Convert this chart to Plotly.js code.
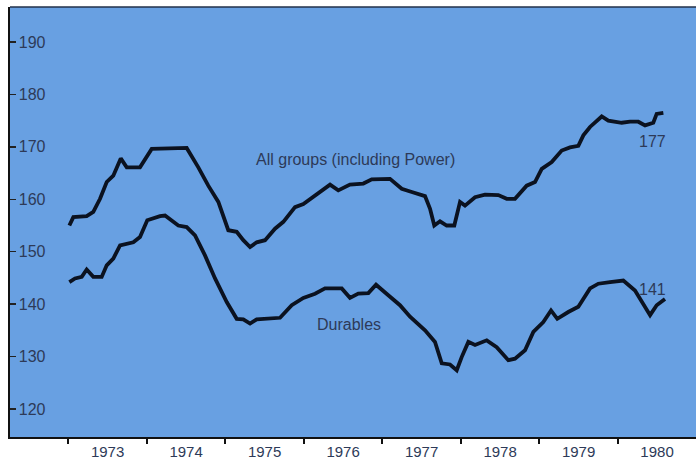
<!DOCTYPE html>
<html>
<head>
<meta charset="utf-8">
<script src="https://cdn.plot.ly/plotly-3.0.1.min.js"></script>
<style>html,body{margin:0;padding:0;background:#fff;}#chart{width:696px;height:459px;}</style>
</head>
<body>
<div id="chart"></div>
<script>
// Index values (x in fractional years)
const allGroupsX = [1973.013,1973.064,1973.234,1973.318,1973.404,1973.489,1973.573,1973.668,1973.744,1973.913,1974.062,1974.508,1974.656,1974.783,1974.911,1975.038,1975.145,1975.229,1975.315,1975.400,1975.506,1975.633,1975.739,1975.888,1975.994,1976.164,1976.334,1976.439,1976.588,1976.758,1976.865,1977.098,1977.247,1977.375,1977.544,1977.608,1977.662,1977.735,1977.820,1977.917,1977.990,1978.053,1978.181,1978.308,1978.478,1978.585,1978.690,1978.839,1978.945,1979.031,1979.158,1979.285,1979.391,1979.497,1979.561,1979.646,1979.795,1979.879,1980.050,1980.156,1980.261,1980.347,1980.452,1980.495,1980.580];
const allGroupsY = [155.0,156.6,156.8,157.6,160.1,163.3,164.5,167.8,166.1,166.1,169.6,169.8,166.1,162.6,159.5,154.1,153.8,152.2,150.9,151.8,152.2,154.4,155.7,158.5,159.1,161.0,162.8,161.7,162.8,163.0,163.8,163.9,162.0,161.4,160.6,158.2,155.0,155.8,155.0,155.0,159.5,158.8,160.4,160.9,160.8,160.1,160.1,162.6,163.3,165.8,167.1,169.3,169.9,170.2,172.2,173.8,175.8,175.0,174.6,174.8,174.8,174.1,174.6,176.3,176.5];

const durablesX = [1973.013,1973.085,1973.171,1973.234,1973.318,1973.425,1973.489,1973.573,1973.659,1973.828,1973.913,1974.006,1974.168,1974.232,1974.401,1974.508,1974.614,1974.741,1974.869,1975.018,1975.145,1975.229,1975.315,1975.400,1975.697,1975.846,1975.994,1976.143,1976.270,1976.483,1976.588,1976.694,1976.822,1976.920,1977.076,1977.225,1977.353,1977.544,1977.671,1977.757,1977.862,1977.948,1978.011,1978.096,1978.181,1978.330,1978.457,1978.605,1978.690,1978.818,1978.924,1979.051,1979.149,1979.229,1979.369,1979.497,1979.646,1979.752,1979.901,1980.070,1980.219,1980.411,1980.495,1980.601];
const durablesY = [144.2,144.9,145.2,146.6,145.2,145.2,147.4,148.7,151.2,151.8,152.8,156.0,156.8,156.9,155.0,154.7,153.1,149.3,144.9,140.4,137.2,137.1,136.3,137.1,137.4,139.8,141.2,142.0,143.0,143.0,141.2,142.0,142.1,143.7,141.7,139.8,137.6,135.0,132.8,128.7,128.5,127.4,129.9,132.8,132.2,133.1,131.8,129.3,129.6,131.2,134.7,136.6,138.8,137.2,138.5,139.5,143.0,143.9,144.2,144.5,142.6,137.9,139.8,141.0];

const yearLabels = ['1973','1974','1975','1976','1977','1978','1979','1980'];
const yearMids = [1973.5,1974.5,1975.5,1976.5,1977.5,1978.5,1979.5,1980.5];
const yTicks = [120,130,140,150,160,170,180,190];
const seriesNames = ['All groups (including Power)','Durables'];
const endLabels = ['177','141'];

const lineColor = '#0b1220';
const textColor = '#2d3a58';
const font = 'Liberation Sans, Arial, sans-serif';

const traces = [
  {x: allGroupsX, y: allGroupsY, mode: 'lines', line: {color: lineColor, width: 3.8}, hoverinfo: 'skip', showlegend: false},
  {x: durablesX, y: durablesY, mode: 'lines', line: {color: lineColor, width: 3.8}, hoverinfo: 'skip', showlegend: false}
];

const layout = {
  width: 696, height: 459,
  margin: {l: 10, r: 0, t: 7, b: 22},
  paper_bgcolor: '#ffffff',
  plot_bgcolor: '#68a0e2',
  showlegend: false,
  font: {family: font, color: textColor, size: 16},
  xaxis: {
    range: [1972.257, 1980.996],
    tickmode: 'array', tickvals: yearMids, ticktext: yearLabels,
    ticks: '', showgrid: false, zeroline: false,
    showline: true, linecolor: '#111', linewidth: 2,
    tickfont: {size: 15, color: textColor},
    ticklabelstandoff: 0,
    minor: {tick0: 1973, dtick: 1, ticks: 'outside', ticklen: 5, tickwidth: 2, tickcolor: '#111', showgrid: false},
    fixedrange: true
  },
  yaxis: {
    range: [114.66, 196.68],
    tickmode: 'array', tickvals: yTicks,
    ticks: 'inside', ticklen: 6, tickwidth: 1.5, tickcolor: '#222',
    ticklabelposition: 'inside', ticklabelstandoff: 3,
    showgrid: false, zeroline: false,
    showline: true, linecolor: '#111', linewidth: 2,
    tickfont: {size: 16, color: textColor},
    fixedrange: true
  },
  shapes: [
    {type: 'line', xref: 'paper', yref: 'paper', x0: 0, x1: 1, y0: 1, y1: 1, line: {color: '#22304a', width: 1.5}}
  ],
  annotations: [
    {x: 1976.652, y: 167.68, text: seriesNames[0], showarrow: false, font: {size: 16, color: textColor}},
    {x: 1976.576, y: 136.21, text: seriesNames[1], showarrow: false, font: {size: 16, color: textColor}},
    {x: 1980.436, y: 171.12, text: endLabels[0], showarrow: false, font: {size: 16, color: textColor}},
    {x: 1980.436, y: 142.89, text: endLabels[1], showarrow: false, font: {size: 16, color: textColor}}
  ]
};

Plotly.newPlot('chart', traces, layout, {staticPlot: true, displayModeBar: false});
</script>
</body>
</html>
